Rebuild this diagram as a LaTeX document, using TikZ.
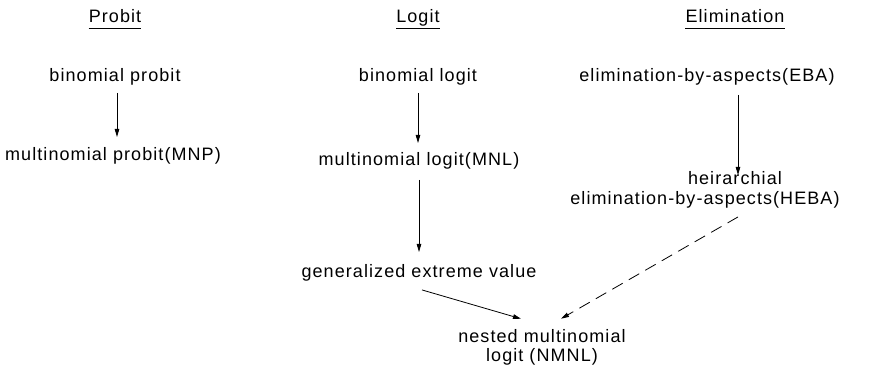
\documentclass[tikz,border=0pt]{standalone}
\usepackage{fontspec}
\setmainfont[LetterSpace=6]{Liberation Sans}
\usetikzlibrary{arrows.meta}
\begin{document}
\begin{tikzpicture}[x=1pt,y=-1pt,
  txt/.style={anchor=base,inner sep=0pt,font=\fontsize{18}{20}\selectfont,align=center},
  arr/.style={draw,line width=0.8pt,-{Triangle[length=8pt,width=4.5pt]}},
  dsh/.style={arr,dash pattern=on 12pt off 7pt}]
\useasboundingbox (0,0) rectangle (879,390);
% headings
\node[txt] (hp) at (115,23) {Probit};
\node[txt] (hl) at (418,23) {Logit};
\node[txt] (he) at (735,23) {Elimination};
\foreach \n in {hp,hl,he}
  \draw[line width=0.8pt] ([yshift=-5pt]\n.base west) -- ([yshift=-5pt]\n.base east);
% nodes
\node[txt] (bp) at (115,82) {binomial probit};
\node[txt] (mnp) at (113,161) {multinomial probit(MNP)};
\node[txt] (bl) at (418,82) {binomial logit};
\node[txt] (mnl) at (419,166) {multinomial logit(MNL)};
\node[txt] (gev) at (419,278) {generalized extreme value};
\node[txt] (eba) at (707,82) {elimination-by-aspects(EBA)};
\node[txt] (heba) at (705,205) {\hspace*{60pt}heirarchial\\elimination-by-aspects(HEBA)};
\node[txt] (nmnl) at (542,362) {nested multinomial\\logit (NMNL)};
% connectors
\draw[arr] ([xshift=2pt,yshift=-7pt]bp.south) -- ([xshift=2pt]bp.south |- 0,137);
\draw[arr] ([yshift=-7pt]bl.south) -- (bl.south |- 0,143);
\draw[arr] ([yshift=-10pt]mnl.south) -- (mnl.south |- 0,252);
\draw[arr] ([xshift=31pt,yshift=-9pt]eba.south) -- ([xshift=31pt]eba.south |- 0,175);
\draw[arr] ([shift={(3pt,-8pt)}]gev.south) -- ([shift={(-21pt,10pt)}]nmnl.north);
\draw[dsh] ([shift={(33pt,-8pt)}]heba.south) -- ([shift={(19pt,10pt)}]nmnl.north);
\end{tikzpicture}
\end{document}
